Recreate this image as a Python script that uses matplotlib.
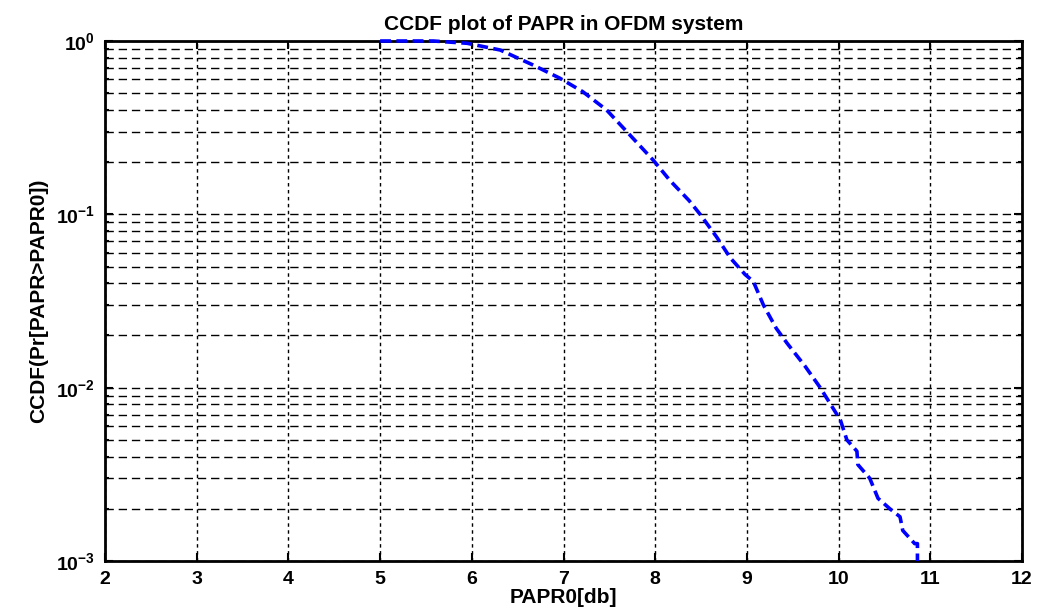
import matplotlib
matplotlib.use('Agg')
import matplotlib.pyplot as plt
from matplotlib.ticker import LogLocator, NullFormatter

# values
papr0 = [5.0, 5.58, 5.95, 6.31, 6.67, 6.96, 7.21, 7.47, 7.69, 7.98, 8.16, 8.37,
         8.49, 8.67, 8.82, 8.98, 9.07, 9.18, 9.32, 9.44, 9.63, 9.8, 9.94, 10.02,
         10.09, 10.2, 10.21, 10.34, 10.43, 10.56, 10.67, 10.7, 10.83, 10.86, 10.86]
ccdf = [1.0, 1.0, 0.97, 0.887, 0.726, 0.61, 0.51, 0.40, 0.30, 0.205, 0.157, 0.12,
        0.1, 0.074, 0.056, 0.045, 0.041, 0.030, 0.022, 0.018, 0.0134, 0.010, 0.0076, 0.0065,
        0.005, 0.0043, 0.0036, 0.003, 0.0023, 0.002, 0.0018, 0.0015, 0.00126, 0.00126, 0.001]
xticks = [2, 3, 4, 5, 6, 7, 8, 9, 10, 11, 12]

plt.rcParams['font.family'] = ['Liberation Sans', 'DejaVu Sans']
plt.rcParams['font.weight'] = 'bold'
plt.rcParams['mathtext.default'] = 'bf'
plt.rcParams['mathtext.fontset'] = 'custom'
plt.rcParams['mathtext.bf'] = 'Liberation Sans:bold'

fig = plt.figure(figsize=(10.37, 6.11), dpi=100)
ax = fig.add_axes([0.1013, 0.0818, 0.8842, 0.8511])

ax.semilogy(papr0, ccdf, color='#0000ff', linestyle=(0, (3, 1.5)), linewidth=2.6,
            zorder=5, clip_on=False)

ax.set_xlim(2, 12)
ax.set_ylim(1e-3, 1)
ax.set_xticks(xticks)
ax.yaxis.set_major_locator(LogLocator(base=10, numticks=10))
ax.yaxis.set_minor_locator(LogLocator(base=10, subs=range(2, 10), numticks=20))
ax.yaxis.set_minor_formatter(NullFormatter())

# grid: dashed horizontal, dotted vertical
ax.yaxis.grid(True, which='both', color='black', linestyle=(0, (6, 3.5)), linewidth=1.0)
ax.xaxis.grid(True, which='major', color='black', linestyle=(0, (2.5, 2.5)), linewidth=1.0)

ax.tick_params(which='both', direction='in', top=True, right=True, labelsize=14, width=1.5)
ax.tick_params(which='major', length=6, pad=7)
ax.tick_params(which='minor', length=3)
for lab in ax.get_xticklabels() + ax.get_yticklabels():
    lab.set_fontweight('bold')
for s in ax.spines.values():
    s.set_linewidth(2)

ax.set_title('CCDF plot of PAPR in OFDM system', fontsize=15, fontweight='bold', pad=8)
ax.set_xlabel('PAPR0[db]', fontsize=15, fontweight='bold', labelpad=0)
ax.set_ylabel('CCDF(Pr[PAPR>PAPR0])', fontsize=15, fontweight='bold', labelpad=6)

fig.savefig('out.png', dpi=100)
